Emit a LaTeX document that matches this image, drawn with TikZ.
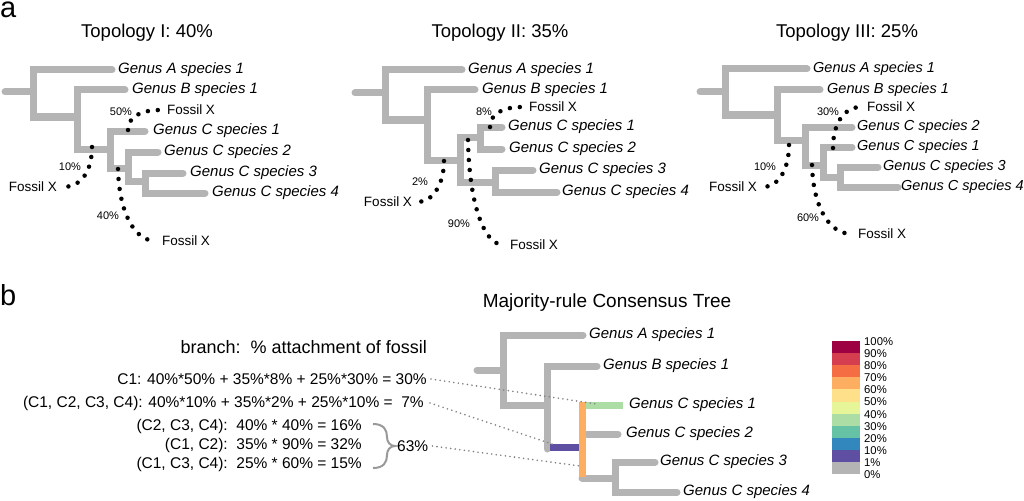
\documentclass[tikz,border=0pt]{standalone}
\usepackage{fontspec}
\setmainfont{Liberation Sans}
\definecolor{brgray}{RGB}{180,180,180}
\definecolor{c100}{HTML}{9E0142}
\definecolor{c90}{HTML}{D53E4F}
\definecolor{c80}{HTML}{F46D43}
\definecolor{c70}{HTML}{FDAE61}
\definecolor{c60}{HTML}{FEE08B}
\definecolor{c50}{HTML}{E6F598}
\definecolor{c40}{HTML}{ABDDA4}
\definecolor{c30}{HTML}{66C2A5}
\definecolor{c20}{HTML}{3288BD}
\definecolor{c10}{HTML}{5E4FA2}
\definecolor{c0}{RGB}{180,180,180}
\definecolor{dotgray}{RGB}{130,130,130}
\begin{document}
\begin{tikzpicture}[x=1pt,y=-1pt,
  br/.style={draw=brgray,line width=7pt,line cap=round,line join=miter},
  cbr/.style={line width=7pt,line cap=butt},
  tip/.style={anchor=west,inner sep=0pt,font=\fontsize{15}{18}\selectfont\itshape},
  tipiii/.style={anchor=west,inner sep=0pt,font=\fontsize{14.5}{18}\selectfont\itshape},
  fos/.style={inner sep=0pt,outer sep=6pt,font=\fontsize{13.5}{16}\selectfont},
  pct/.style={inner sep=0pt,font=\fontsize{11}{13}\selectfont},
  ttl/.style={inner sep=0pt,font=\fontsize{18.5}{22}\selectfont},
  pan/.style={inner sep=0pt,anchor=base west,font=\fontsize{29}{33}\selectfont},
  btxt/.style={inner sep=0pt,anchor=east,font=\fontsize{15.5}{18}\selectfont},
  leg/.style={inner sep=0pt,anchor=west,font=\fontsize{11.3}{13}\selectfont},
  fline/.style={draw=black,line width=4.5pt,line cap=round,dash pattern=on 0pt off 10pt},
  gline/.style={draw=dotgray,line width=1.8pt,line cap=round,dash pattern=on 0pt off 4.6pt},
  brace/.style={draw=brgray!85!black,line width=2pt}]
\useasboundingbox (0,0) rectangle (1024,500);

% panel labels
\node[pan] (pa) at (0,18) {a};
\node[pan] (pb) at (0,305) {b};

% ---------------- Topology I ----------------
\node[ttl] (t1) at (147,33) {Topology I: 40\%};
\draw[br] (5,92)--(33,92);
\draw[br] (112,70)--(33,70)--(33,117)--(77,117);
\draw[br] (125,90)--(77,90)--(77,149)--(110,149);
\draw[br] (145,131)--(110,131)--(110,168)--(128,168);
\draw[br] (158,152)--(128,152)--(128,181)--(145,181);
\draw[br] (183,173)--(145,173)--(145,193)--(205,193);
\node[tip] (IA) at (118,70) {Genus A species 1};
\node[tip] (IB) at (132,90) {Genus B species 1};
\node[tip] (IC1) at (153,131) {Genus C species 1};
\node[tip] (IC2) at (164,152) {Genus C species 2};
\node[tip] (IC3) at (190,173) {Genus C species 3};
\node[tip] (IC4) at (212,193) {Genus C species 4};
\coordinate (Ia) at (128,130);
\coordinate (Ib) at (92,147);
\coordinate (Ic) at (118,169);
\node[fos,anchor=west] (IFa) at (161,110) {Fossil X};
\node[fos,anchor=east] (IFb) at (63,187) {Fossil X};
\node[fos,anchor=west] (IFc) at (156,241) {Fossil X};
\draw[fline] (Ia) .. controls (128,117) and (140,110) .. (IFa.west);
\draw[fline] (Ib) .. controls (92,170) and (82,187) .. (IFb.east);
\draw[fline] (Ic) .. controls (119,210) and (133,241) .. (IFc.west);
\node[pct] (Ipa) at (121,112) {50\%};
\node[pct] (Ipb) at (70,167) {10\%};
\node[pct] (Ipc) at (108,216) {40\%};

% ---------------- Topology II ----------------
\node[ttl] (t2) at (500,33) {Topology II: 35\%};
\draw[br] (355,93)--(385,93);
\draw[br] (462,70)--(385,70)--(385,120)--(427,120);
\draw[br] (475,90)--(427,90)--(427,160)--(460,160);
\draw[br] (480,137)--(460,137)--(460,182)--(495,182);
\draw[br] (502,127)--(480,127)--(480,149)--(502,149);
\draw[br] (533,170)--(495,170)--(495,192)--(557,192);
\node[tip] (IIA) at (468,70) {Genus A species 1};
\node[tip] (IIB) at (482,90) {Genus B species 1};
\node[tip] (IIC1) at (508,127) {Genus C species 1};
\node[tip] (IIC2) at (509,149) {Genus C species 2};
\node[tip] (IIC3) at (539,170) {Genus C species 3};
\node[tip] (IIC4) at (562,192) {Genus C species 4};
\coordinate (IIa) at (490,127);
\coordinate (IIb) at (444,161);
\coordinate (IIc) at (468,140);
\node[fos,anchor=west] (IIFa) at (523,107) {Fossil X};
\node[fos,anchor=east] (IIFb) at (418,202) {Fossil X};
\node[fos,anchor=west] (IIFc) at (504,245) {Fossil X};
\draw[fline] (IIa) .. controls (490,114) and (502,107) .. (IIFa.west);
\draw[fline] (IIb) .. controls (444,185) and (432,202) .. (IIFb.east);
\draw[fline] (IIc) .. controls (469,198) and (482,245) .. (IIFc.west);
\node[pct] (IIpa) at (484,112) {8\%};
\node[pct] (IIpb) at (420,182) {2\%};
\node[pct] (IIpc) at (459,224) {90\%};

% ---------------- Topology III ----------------
\node[ttl] (t3) at (847,33) {Topology III: 25\%};
\draw[br] (700,92)--(725,92);
\draw[br] (807,69)--(725,69)--(725,115)--(777,115);
\draw[br] (820,90)--(777,90)--(777,140)--(805,140);
\draw[br] (852,127)--(805,127)--(805,165)--(823,165);
\draw[br] (852,147)--(823,147)--(823,177)--(840,177);
\draw[br] (878,167)--(840,167)--(840,187)--(898,187);
\node[tipiii] (IIIA) at (813,69) {Genus A species 1};
\node[tipiii] (IIIB) at (827,90) {Genus B species 1};
\node[tipiii] (IIIC2) at (857,127) {Genus C species 2};
\node[tipiii] (IIIC1) at (857,147) {Genus C species 1};
\node[tipiii] (IIIC3) at (883,167) {Genus C species 3};
\node[tipiii] (IIIC4) at (901,187) {Genus C species 4};
\coordinate (IIIa) at (833,148);
\coordinate (IIIb) at (789,145);
\coordinate (IIIc) at (812,165);
\node[fos,anchor=west] (IIIFa) at (861,107) {Fossil X};
\node[fos,anchor=east] (IIIFb) at (763,187) {Fossil X};
\node[fos,anchor=west] (IIIFc) at (852,234) {Fossil X};
\draw[fline] (IIIa) .. controls (833,122) and (845,107) .. (IIIFa.west);
\draw[fline] (IIIb) .. controls (789,170) and (778,187) .. (IIIFb.east);
\draw[fline] (IIIc) .. controls (813,205) and (828,234) .. (IIIFc.west);
\node[pct] (IIIpa) at (828,112) {30\%};
\node[pct] (IIIpb) at (765,167) {10\%};
\node[pct] (IIIpc) at (808,218) {60\%};

% ---------------- Panel b ----------------
\node[btxt,font=\fontsize{18}{21}\selectfont] (L0) at (427,347) {branch:\ \ \% attachment of fossil};
\node[btxt] (L1) at (427,379) {C1: 40\%*50\% + 35\%*8\% + 25\%*30\% = 30\%};
\node[btxt] (L2) at (424,403) {(C1, C2, C3, C4): 40\%*10\% + 35\%*2\% + 25\%*10\% = \ 7\%};
\node[btxt] (L3) at (362,426) {(C2, C3, C4):\ \ 40\% * 40\% = 16\%};
\node[btxt] (L4) at (362,445) {(C1, C2):\ \ 35\% * 90\% = 32\%};
\node[btxt] (L5) at (362,464) {(C1, C3, C4):\ \ 25\% * 60\% = 15\%};
\draw[brace] (373,424) .. controls (384,424) and (387,430) .. (387,437)
  .. controls (387,442) and (390,446) .. (395,446)
  .. controls (390,446) and (387,450) .. (387,455)
  .. controls (387,462) and (384,468) .. (373,468);
\node[btxt,anchor=west] (P63) at (397,446) {63\%};

% consensus tree
\node[ttl,font=\fontsize{19}{23}\selectfont] (t4) at (607,303) {Majority-rule Consensus Tree};
\draw[br] (477,370)--(503,370);
\draw[br] (583,335)--(503,335)--(503,405)--(547,405);
\draw[br] (597,366)--(547,366)--(547,449);
\draw[br] (582,478)--(615,478);
\draw[br] (655,462)--(615,462)--(615,492)--(677,492);
\draw[br] (587,434)--(618,434);
\draw[cbr,draw=c10] (550,447)--(580,447);
\draw[cbr,draw=c40] (584,405)--(623,405);
\draw[cbr,draw=c70] (582,402)--(582,477);
\node[tip] (CA) at (589,335) {Genus A species 1};
\node[tip] (CB) at (603,366) {Genus B species 1};
\node[tip] (CC1) at (629,405) {Genus C species 1};
\node[tip] (CC2) at (626,434) {Genus C species 2};
\node[tip] (CC3) at (660,462) {Genus C species 3};
\node[tip] (CC4) at (683,492) {Genus C species 4};
\coordinate (kC1) at (597,404);
\coordinate (kAll) at (555,445);
\coordinate (kOr) at (580,466);
\draw[gline] ([xshift=4pt]L1.east) -- (kC1);
\draw[gline] ([xshift=6pt]L2.east) -- (kAll);
\draw[gline] ([xshift=4pt]P63.east) -- (kOr);

% legend
\foreach \c [count=\i from 0] in {c100,c90,c80,c70,c60,c50,c40,c30,c20,c10,c0}
  \fill[\c] (832,{341+\i*12.1}) rectangle (860,{341+(\i+1)*12.1});
\foreach \l [count=\i from 0] in {100,90,80,70,60,50,40,30,20,10,1,0}
  \node[leg] (lg\i) at (864,{342+\i*12.02}) {\l\%};
\end{tikzpicture}
\end{document}
